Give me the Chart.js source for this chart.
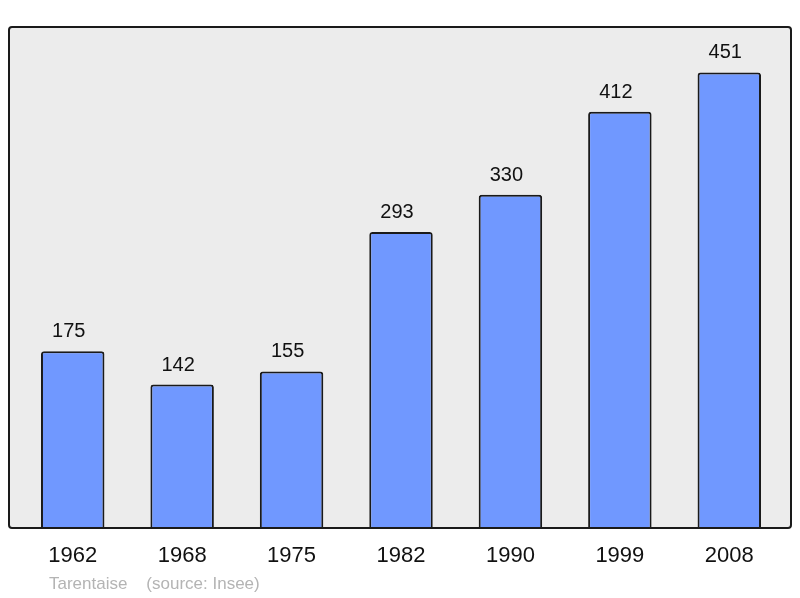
<!DOCTYPE html>
<html lang="fr">
<head>
    <meta charset="UTF-8">
    <title>Tarentaise - population</title>
    <script src="https://cdn.jsdelivr.net/npm/chart.js"></script>
    <style>
        body {
            margin: 0;
            background: white;
        }
        canvas {
            display: block;
        }
    </style>
</head>
<body>
    <canvas id="popChart" width="800" height="598"></canvas>

    <script>
        const years = ['1962', '1968', '1975', '1982', '1990', '1999', '2008'];
        const population = [175, 142, 155, 293, 330, 412, 451];
        const footerText = 'Tarentaise    (source: Insee)';

        const FONT = '"Liberation Sans", Arial, sans-serif';

        // grey frame behind the bars
        const framePlugin = {
            id: 'frame',
            beforeDraw(chart) {
                const ctx = chart.ctx;
                ctx.save();
                ctx.beginPath();
                ctx.roundRect(9, 27, 782, 501, 3);
                ctx.fillStyle = '#ececec';
                ctx.fill();
                ctx.restore();
            },
            afterDatasetsDraw(chart) {
                const ctx = chart.ctx;
                ctx.save();
                ctx.beginPath();
                ctx.roundRect(9, 27, 782, 501, 3);
                ctx.lineWidth = 2;
                ctx.strokeStyle = '#1a1a1a';
                ctx.stroke();

                // value labels
                ctx.font = '20px ' + FONT;
                ctx.fillStyle = '#111';
                ctx.textAlign = 'center';
                ctx.textBaseline = 'alphabetic';
                chart.getDatasetMeta(0).data.forEach((bar, i) => {
                    ctx.fillText(population[i], bar.x - 4, bar.y - 14);
                });

                // footer
                ctx.font = '17px ' + FONT;
                ctx.fillStyle = '#b4b4b4';
                ctx.textAlign = 'left';
                ctx.textBaseline = 'middle';
                ctx.fillText(footerText, 49, 584);
                ctx.restore();
            }
        };

        new Chart(document.getElementById('popChart'), {
            type: 'bar',
            data: {
                labels: years,
                datasets: [{
                    data: population,
                    backgroundColor: '#7098ff',
                    borderColor: '#1a1a1a',
                    borderWidth: 2,
                    borderRadius: 3,
                    borderSkipped: 'bottom',
                    barPercentage: 0.58,
                    categoryPercentage: 1
                }]
            },
            options: {
                responsive: false,
                animation: false,
                layout: { padding: { left: 18, right: 16, top: 27, bottom: 0 } },
                plugins: {
                    legend: { display: false },
                    tooltip: { enabled: false }
                },
                scales: {
                    x: {
                        grid: { display: false, drawTicks: false },
                        border: { display: false },
                        ticks: {
                            color: '#111',
                            font: { family: FONT, size: 22 },
                            padding: 15
                        },
                        afterFit(scale) { scale.height = 70; }
                    },
                    y: {
                        display: false,
                        min: 0,
                        max: 496
                    }
                }
            },
            plugins: [framePlugin]
        });
    </script>
</body>
</html>
